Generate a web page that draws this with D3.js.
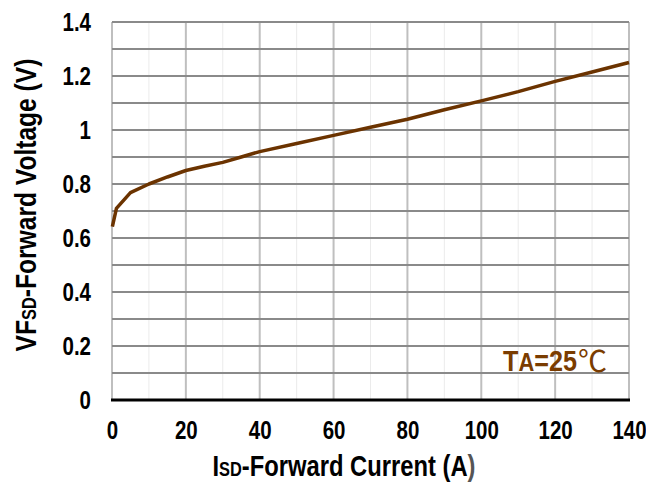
<!DOCTYPE html>
<html>
<head>
<meta charset="utf-8">
<script src="https://cdn.jsdelivr.net/npm/d3@7"></script>
<style>
  html, body { margin: 0; padding: 0; background: #fff; }
  svg { display: block; }
  text { font-family: "Liberation Sans", Arial, sans-serif; font-weight: bold; }
</style>
</head>
<body>
<svg id="chart" width="646" height="484"></svg>
<script>
// Body-diode forward current (A) vs. forward voltage (V), TA = 25 °C
const current = [0.1, 1.2, 5, 10, 15, 20, 25, 30, 35, 40, 50, 60, 70, 80, 90, 100, 110, 120, 130, 140];
const voltage = [0.642, 0.71, 0.768, 0.80, 0.826, 0.85, 0.866, 0.88, 0.90, 0.92, 0.95, 0.98, 1.01, 1.04, 1.075, 1.108, 1.142, 1.18, 1.215, 1.25];

const xTicks = [0, 20, 40, 60, 80, 100, 120, 140];
const yTicks = [0, 0.2, 0.4, 0.6, 0.8, 1, 1.2, 1.4];
const xMinor = [10, 30, 50, 70, 90, 110, 130];
const yMinor = [0.1, 0.3, 0.5, 0.7, 0.9, 1.1, 1.3];

// horizontal squeeze giving the bold sans a narrow look
const NARROW = 0.82;

const svg = d3.select("#chart");
const plotL = 112, plotR = 629, plotT = 22, plotB = 400;

const x = d3.scaleLinear().domain([0, 140]).range([plotL, plotR]);
const y = d3.scaleLinear().domain([0, 1.4]).range([plotB, plotT]);

const grid = svg.append("g");

// minor vertical gridlines
grid.selectAll(".vmin").data(xMinor).enter().append("line")
  .attr("x1", d => x(d)).attr("x2", d => x(d))
  .attr("y1", plotT).attr("y2", plotB)
  .attr("stroke", "#ebebeb").attr("stroke-width", 1);

// major vertical gridlines
grid.selectAll(".vmaj").data(xTicks).enter().append("line")
  .attr("x1", d => x(d)).attr("x2", d => x(d))
  .attr("y1", plotT).attr("y2", plotB)
  .attr("stroke", "#bfbfbf").attr("stroke-width", 2);

// horizontal gridlines every 0.1 V
grid.selectAll(".h").data(yTicks.concat(yMinor).filter(d => d > 0)).enter().append("line")
  .attr("x1", plotL).attr("x2", plotR)
  .attr("y1", d => y(d)).attr("y2", d => y(d))
  .attr("stroke", "#8a8a8a").attr("stroke-width", 2);

// x baseline
svg.append("line")
  .attr("x1", plotL - 1).attr("x2", plotR + 1)
  .attr("y1", y(0)).attr("y2", y(0))
  .attr("stroke", "#000").attr("stroke-width", 3);

// axes (labels only)
const xAxis = svg.append("g")
  .attr("transform", `translate(0,${plotB})`)
  .call(d3.axisBottom(x).tickValues(xTicks).tickSize(0).tickPadding(21).tickFormat(d3.format("d")));
xAxis.select(".domain").remove();
xAxis.selectAll("text")
  .attr("font-size", 25).attr("fill", "#000")
  .attr("transform", `scale(${NARROW},1)`)
  .style("font-family", "'Liberation Sans', Arial, sans-serif").style("font-weight", "bold");

const yPad = 21;
const yAxis = svg.append("g")
  .attr("transform", `translate(${plotL},0)`)
  .call(d3.axisLeft(y).tickValues(yTicks).tickSize(0).tickPadding(yPad).tickFormat(d => String(+d.toFixed(1))));
yAxis.select(".domain").remove();
yAxis.selectAll("text")
  .attr("font-size", 25).attr("fill", "#000")
  .attr("x", -yPad / NARROW)
  .attr("transform", `scale(${NARROW},1)`)
  .style("font-family", "'Liberation Sans', Arial, sans-serif").style("font-weight", "bold");

// curve
const line = d3.line().x((d, i) => x(current[i])).y(d => y(d));
svg.append("path")
  .datum(voltage)
  .attr("d", line)
  .attr("fill", "none")
  .attr("stroke", "#6b3300")
  .attr("stroke-width", 3.5)
  .attr("stroke-linejoin", "round");

// temperature annotation
const ta = svg.append("text")
  .attr("transform", "translate(503,371) scale(0.84,1)")
  .attr("font-size", 30)
  .attr("fill", "#7a3c00");
ta.append("tspan").text("T");
ta.append("tspan").attr("font-size", 26).text("A");
ta.append("tspan").text("=25");
svg.append("text")
  .attr("x", 578).attr("y", 372)
  .attr("font-size", 29)
  .style("font-family", "'Noto Sans CJK SC', 'Noto Sans', sans-serif")
  .style("font-weight", "normal")
  .attr("fill", "#7a3c00")
  .text("℃");

// x-axis title
const xt = svg.append("text")
  .attr("transform", `translate(344,476) scale(${NARROW},1)`)
  .attr("text-anchor", "middle")
  .attr("font-size", 29)
  .attr("fill", "#000");
xt.append("tspan").text("I");
xt.append("tspan").attr("font-size", 20).text("SD");
xt.append("tspan").text("-Forward Current (A");
xt.append("tspan").attr("fill", "#555").text(")");

// y-axis title
const yt = svg.append("text")
  .attr("transform", `translate(36,205) rotate(-90) scale(${NARROW},1)`)
  .attr("text-anchor", "middle")
  .attr("font-size", 30)
  .attr("fill", "#000");
yt.append("tspan").text("VF");
yt.append("tspan").attr("font-size", 20).text("SD");
yt.append("tspan").text("-Forward Voltage (V)");
</script>
</body>
</html>
